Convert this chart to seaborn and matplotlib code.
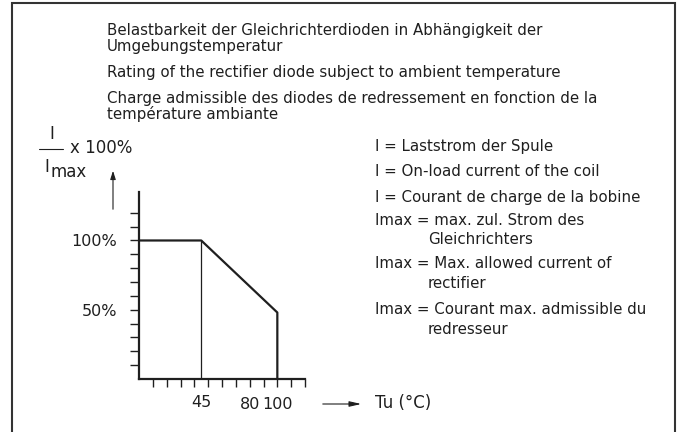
import matplotlib
matplotlib.use("Agg")
import matplotlib.pyplot as plt
from matplotlib.patches import Rectangle, FancyArrowPatch
import seaborn as sns

# derating curve (ambient temperature in °C, load in % of Imax)
temp = [0, 45, 100, 100]
rating = [100, 100, 48, 0]
knee_temp = 45
knee_rating = 100

x_ticks = list(range(10, 121, 10))
y_ticks = list(range(10, 121, 10))
x_tick_labels = {80: "80", 100: "100"}
x_minor_pos = [45]
x_minor_labels = ["45"]
y_tick_labels = {50: "50%", 100: "100%"}

title_lines = [
    "Belastbarkeit der Gleichrichterdioden in Abhängigkeit der",
    "Umgebungstemperatur",
    "Rating of the rectifier diode subject to ambient temperature",
    "Charge admissible des diodes de redressement en fonction de la",
    "température ambiante",
]
title_y = [30, 46, 73, 98, 114]

legend_lines = [
    "I = Laststrom der Spule",
    "I = On-load current of the coil",
    "I = Courant de charge de la bobine",
    "Imax = max. zul. Strom des",
    "Gleichrichters",
    "Imax = Max. allowed current of",
    "rectifier",
    "Imax = Courant max. admissible du",
    "redresseur",
]
legend_y = [147, 172, 197, 220, 240, 263, 283, 309, 330]
legend_x = [375, 375, 375, 375, 428, 375, 428, 375, 428]

sns.set_style("white")
plt.rcParams["font.family"] = ["DejaVu Sans"]
ink = "#1f1f1f"

W, H = 680, 432
fig = plt.figure(figsize=(6.8, 4.32), dpi=100)


def fx(x):
    return x / W


def fy(y):
    return 1 - y / H


# plot area: 0 °C at x=139 px, 120 °C at x=305 px, 0 % at y=379 px, 135 % at y=192 px
ax = fig.add_axes([fx(139), fy(379), fx(305) - fx(139), fy(192) - fy(379)])

sns.lineplot(x=temp, y=rating, estimator=None, sort=False, color=ink, linewidth=1.6, ax=ax)
ax.vlines(knee_temp, 0, knee_rating, color=ink, linewidth=0.9)

ax.set_xlim(0, 120)
ax.set_ylim(0, 135)
sns.despine(ax=ax)
for s in ["left", "bottom"]:
    ax.spines[s].set_color(ink)
    ax.spines[s].set_linewidth(1.6)

ax.set_xticks(x_ticks, labels=[x_tick_labels.get(t, "") for t in x_ticks])
ax.set_yticks(y_ticks, labels=[y_tick_labels.get(t, "") for t in y_ticks])
ax.set_xticks(x_minor_pos, labels=x_minor_labels, minor=True)
ax.tick_params(which="major", bottom=True, left=True, direction="out", width=1, color=ink,
               labelsize=11.5, labelcolor=ink)
ax.tick_params(which="major", axis="x", length=6, pad=7)
ax.tick_params(which="major", axis="y", length=6.5, pad=9)
ax.tick_params(which="minor", axis="x", bottom=True, length=0, pad=11.5, labelsize=11.5, labelcolor=ink)
ax.set_xlabel("")
ax.set_ylabel("")

# y axis label as fraction
fig.text(fx(52), fy(134), "I", fontsize=12, color=ink, ha="center", va="center")
fig.add_artist(plt.Line2D([fx(39), fx(63)], [fy(149), fy(149)], color=ink, lw=0.8))
fig.text(fx(70), fy(148), "x 100%", fontsize=12, color=ink, ha="left", va="center")
fig.text(fx(44), fy(167), "I", fontsize=12, color=ink, ha="left", va="center")
fig.text(fx(51), fy(172), "max", fontsize=12, color=ink, ha="left", va="center")
fig.add_artist(FancyArrowPatch((fx(113), fy(212)), (fx(113), fy(168)), transform=fig.transFigure,
                               arrowstyle="-|>,head_length=5,head_width=1.6", color=ink, lw=0.8))

# x axis label with arrow
fig.add_artist(FancyArrowPatch((fx(320), fy(404)), (fx(364), fy(404)), transform=fig.transFigure,
                               arrowstyle="-|>,head_length=7,head_width=1.6", color=ink, lw=0.8))
fig.text(fx(375), fy(403), "Tu (°C)", fontsize=12, color=ink, ha="left", va="center")

for line, y in zip(title_lines, title_y):
    fig.text(fx(107), fy(y), line, fontsize=10.8, color=ink, ha="left", va="center")

for line, x, y in zip(legend_lines, legend_x, legend_y):
    fig.text(fx(x), fy(y), line, fontsize=10.8, color=ink, ha="left", va="center")

# drawing frame
fig.add_artist(Rectangle((fx(12), fy(440)), fx(675) - fx(12), fy(3) - fy(440), transform=fig.transFigure,
                         fill=False, edgecolor="#333333", linewidth=1.5, clip_on=False))

fig.savefig("out.png", dpi=100)
